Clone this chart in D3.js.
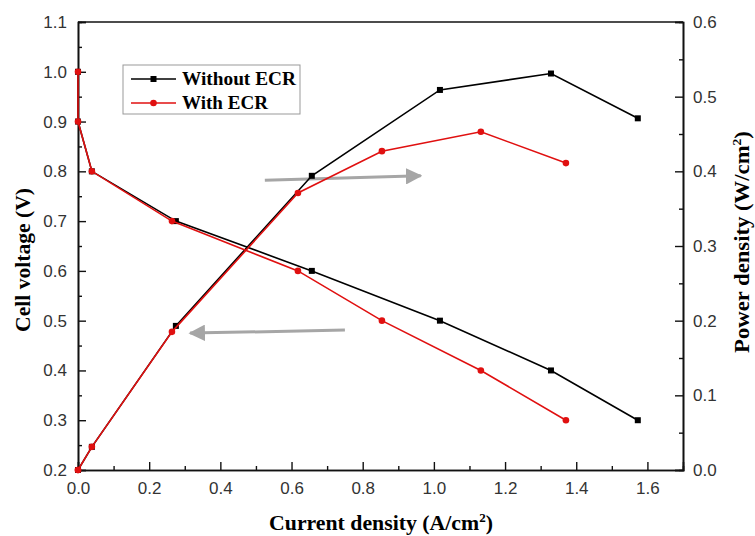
<!DOCTYPE html>
<html>
<head>
<meta charset="utf-8">
<script src="https://cdn.jsdelivr.net/npm/d3@7"></script>
<style>
  body { margin: 0; background: #fff; }
</style>
</head>
<body>
<div id="chart"></div>
<script>
// data
const currentNoEcr = [0, 0, 0.039, 0.275, 0.657, 1.017, 1.329, 1.573];
const voltageNoEcr = [1.0, 0.9, 0.8, 0.7, 0.6, 0.5, 0.4, 0.3];
const powerNoEcr   = [0, 0, 0.031, 0.193, 0.394, 0.509, 0.531, 0.471];

const currentEcr = [0, 0, 0.039, 0.264, 0.618, 0.854, 1.132, 1.371];
const voltageEcr = [1.0, 0.9, 0.8, 0.7, 0.6, 0.5, 0.4, 0.3];
const powerEcr   = [0, 0, 0.031, 0.185, 0.371, 0.427, 0.453, 0.411];

const seriesNames = ["Without ECR", "With ECR"];
const xTicks = [0, 0.2, 0.4, 0.6, 0.8, 1.0, 1.2, 1.4, 1.6];
const yLeftTicks = [0.2, 0.3, 0.4, 0.5, 0.6, 0.7, 0.8, 0.9, 1.0, 1.1];
const yRightTicks = [0, 0.1, 0.2, 0.3, 0.4, 0.5, 0.6];

// annotation arrows, in data units
const arrowToVoltage = {from: [0.75, 0.481], to: [0.315, 0.475]};   // left axis
const arrowToPower   = {from: [0.525, 0.388], to: [0.963, 0.394]};  // right axis

let width = 755, height = 536;
let margin = {top: 22, right: 72, bottom: 66, left: 78};
let innerWidth = width - margin.left - margin.right;
let innerHeight = height - margin.top - margin.bottom;

const serif = '"Liberation Serif", "Times New Roman", Times, serif';
const sans = '"Liberation Sans", Arial, sans-serif';

let x = d3.scaleLinear().domain([0, 1.7]).range([0, innerWidth]);
let yL = d3.scaleLinear().domain([0.2, 1.1]).range([innerHeight, 0]);
let yR = d3.scaleLinear().domain([0, 0.6]).range([innerHeight, 0]);

let svg = d3.select("#chart").append("svg")
  .attr("width", width)
  .attr("height", height);

let g = svg.append("g")
  .attr("transform", "translate(" + margin.left + "," + margin.top + ")");

// minor ticks halfway between the majors
function minors(ticks, max) {
  let out = [];
  for (let i = 0; i < ticks.length - 1; i++) out.push((ticks[i] + ticks[i + 1]) / 2);
  out.push(ticks[ticks.length - 1] + (ticks[1] - ticks[0]) / 2);
  return out.filter(d => d < max);
}

// axes (ticks point inward)
let xAxis = d3.axisBottom(x).tickValues(xTicks).tickFormat(d3.format(".1f")).tickSize(-8).tickPadding(12);
let xMinor = d3.axisBottom(x).tickValues(minors(xTicks, 1.7)).tickFormat("").tickSize(-4);
let yLAxis = d3.axisLeft(yL).tickValues(yLeftTicks).tickFormat(d3.format(".1f")).tickSize(-8).tickPadding(11);
let yLMinor = d3.axisLeft(yL).tickValues(minors(yLeftTicks, 1.1)).tickFormat("").tickSize(-4);
let yRAxis = d3.axisRight(yR).tickValues(yRightTicks).tickFormat(d3.format(".1f")).tickSize(-8).tickPadding(10);
let yRMinor = d3.axisRight(yR).tickValues(minors(yRightTicks, 0.6)).tickFormat("").tickSize(-4);

g.append("g").attr("transform", "translate(0," + innerHeight + ")").call(xAxis);
g.append("g").attr("class", "minor").attr("transform", "translate(0," + innerHeight + ")").call(xMinor);
g.append("g").call(yLAxis);
g.append("g").attr("class", "minor").call(yLMinor);
g.append("g").attr("transform", "translate(" + innerWidth + ",0)").call(yRAxis);
g.append("g").attr("class", "minor").attr("transform", "translate(" + innerWidth + ",0)").call(yRMinor);

// minor axes carry no labels
g.selectAll(".minor .tick text").remove();
g.selectAll(".tick text")
  .style("font-family", sans).style("font-size", "17px").style("fill", "#333");
g.selectAll(".domain").attr("stroke", "#111").attr("stroke-width", 1.6);
g.selectAll(".tick line").attr("stroke", "#111").attr("stroke-width", 1.4);

// top frame
g.append("line")
  .attr("x1", 0).attr("x2", innerWidth).attr("y1", 0).attr("y2", 0)
  .attr("stroke", "#111").attr("stroke-width", 1.6);

// arrows
let defs = svg.append("defs");
defs.append("marker")
  .attr("id", "head")
  .attr("viewBox", "0 0 10 10")
  .attr("refX", 9).attr("refY", 5)
  .attr("markerWidth", 5.5).attr("markerHeight", 5.5)
  .attr("markerUnits", "strokeWidth")
  .attr("orient", "auto")
  .append("path")
  .attr("d", "M0,0 L10,5 L0,10 Z")
  .attr("fill", "#a6a6a6");

g.append("line")
  .attr("x1", x(arrowToVoltage.from[0])).attr("y1", yL(arrowToVoltage.from[1]))
  .attr("x2", x(arrowToVoltage.to[0])).attr("y2", yL(arrowToVoltage.to[1]))
  .attr("stroke", "#a6a6a6").attr("stroke-width", 3)
  .attr("marker-end", "url(#head)");

g.append("line")
  .attr("x1", x(arrowToPower.from[0])).attr("y1", yR(arrowToPower.from[1]))
  .attr("x2", x(arrowToPower.to[0])).attr("y2", yR(arrowToPower.to[1]))
  .attr("stroke", "#a6a6a6").attr("stroke-width", 3)
  .attr("marker-end", "url(#head)");

// series
let black = "#000", red = "#e01010";

function drawSeries(cur, vals, yScale, color, shape) {
  let pts = cur.map((c, i) => [c, vals[i]]);
  let line = d3.line().x(d => x(d[0])).y(d => yScale(d[1]));
  g.append("path")
    .datum(pts)
    .attr("fill", "none")
    .attr("stroke", color)
    .attr("stroke-width", 1.6)
    .attr("d", line);
  if (shape === "square") {
    g.selectAll(null).data(pts).join("rect")
      .attr("x", d => x(d[0]) - 3).attr("y", d => yScale(d[1]) - 3)
      .attr("width", 6).attr("height", 6)
      .attr("fill", color);
  } else {
    g.selectAll(null).data(pts).join("circle")
      .attr("cx", d => x(d[0])).attr("cy", d => yScale(d[1]))
      .attr("r", 3.3)
      .attr("fill", color);
  }
}

drawSeries(currentNoEcr, powerNoEcr, yR, black, "square");
drawSeries(currentNoEcr, voltageNoEcr, yL, black, "square");
drawSeries(currentEcr, powerEcr, yR, red, "circle");
drawSeries(currentEcr, voltageEcr, yL, red, "circle");

// legend
let legend = svg.append("g").attr("transform", "translate(123,65)");
legend.append("rect")
  .attr("width", 177).attr("height", 49)
  .attr("fill", "#fff").attr("stroke", "#999").attr("stroke-width", 1);
let legendItems = [
  {name: seriesNames[0], color: black, shape: "square", len: 114},
  {name: seriesNames[1], color: red, shape: "circle", len: 86}
];
legendItems.forEach((d, i) => {
  let row = legend.append("g").attr("transform", "translate(0," + (14 + i * 24) + ")");
  row.append("line").attr("x1", 8).attr("x2", 53).attr("stroke", d.color).attr("stroke-width", 1.6);
  if (d.shape === "square") {
    row.append("rect").attr("x", 27.5).attr("y", -3).attr("width", 6).attr("height", 6).attr("fill", d.color);
  } else {
    row.append("circle").attr("cx", 30.5).attr("r", 3.3).attr("fill", d.color);
  }
  let t = row.append("text")
    .style("font-family", serif).style("font-weight", "bold")
    .style("font-size", "18px").style("fill", "#000")
    .text(d.name);
  // stretch to the width seen in the figure
  let k = d.len / t.node().getComputedTextLength();
  t.attr("transform", "translate(59,6) scale(" + k + ",1)");
});

// axis titles
function title(parts, cx, cy, len, rotate) {
  let size = 20;
  let t = svg.append("text")
    .style("font-family", serif).style("font-weight", "bold")
    .style("font-size", size + "px").style("fill", "#000")
    .attr("text-anchor", "middle");
  parts.forEach(p => {
    let s = t.append("tspan").text(p.text);
    if (p.sup) s.attr("dy", -8).style("font-size", "12px");
    if (p.after) s.attr("dy", 8);
  });
  let k = len / t.node().getComputedTextLength();
  t.attr("transform", "translate(" + cx + "," + cy + ")" + (rotate ? " rotate(-90)" : "") +
    " scale(" + k + ",1)");
}

title([{text: "Current density (A/cm"}, {text: "2", sup: true}, {text: ")", after: true}], 381, 530, 224, false);
title([{text: "Cell voltage (V)"}], 30, 260, 144, true);
title([{text: "Power density (W/cm"}, {text: "2", sup: true}, {text: ")", after: true}], 749, 242, 222, true);
</script>
</body>
</html>
